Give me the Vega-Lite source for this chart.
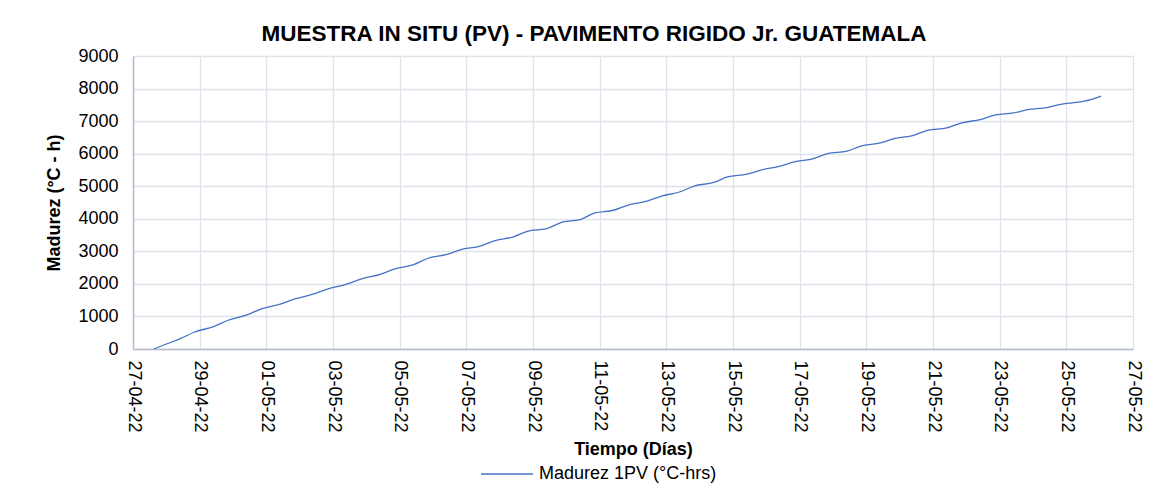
{
  "$schema": "https://vega.github.io/schema/vega-lite/v6.json",
  "width": 1000,
  "height": 293,
  "autosize": {"type": "none"},
  "padding": {"left": 133, "top": 56, "right": 43, "bottom": 137},
  "background": "white",
  "config": {
    "font": "Liberation Sans",
    "view": {"stroke": null},
    "axis": {"gridColor": "#DEE2E9", "gridWidth": 1.3, "domainColor": "#B4BCCE", "domainWidth": 1.5, "labelColor": "#000000", "titleColor": "#000000"}
  },
  "title": {
    "text": "MUESTRA IN SITU (PV) - PAVIMENTO RIGIDO Jr. GUATEMALA",
    "fontSize": 22.5,
    "fontWeight": "bold",
    "font": "Liberation Sans",
    "color": "#000000",
    "anchor": "middle",
    "dx": -39,
    "offset": 2
  },
  "data": {
    "values": [
      {"t": "2022-04-27T15:00:00", "v": 0},
      {"t": "2022-04-28T00:00:00", "v": 153},
      {"t": "2022-04-28T10:00:00", "v": 316},
      {"t": "2022-04-28T20:00:00", "v": 515},
      {"t": "2022-04-29T10:00:00", "v": 690},
      {"t": "2022-04-29T20:00:00", "v": 875},
      {"t": "2022-04-30T10:00:00", "v": 1045},
      {"t": "2022-04-30T20:00:00", "v": 1225},
      {"t": "2022-05-01T10:00:00", "v": 1375},
      {"t": "2022-05-01T20:00:00", "v": 1530},
      {"t": "2022-05-02T10:00:00", "v": 1690},
      {"t": "2022-05-02T20:00:00", "v": 1840},
      {"t": "2022-05-03T10:00:00", "v": 1990},
      {"t": "2022-05-03T20:00:00", "v": 2145},
      {"t": "2022-05-04T10:00:00", "v": 2295},
      {"t": "2022-05-04T20:00:00", "v": 2450},
      {"t": "2022-05-05T10:00:00", "v": 2590},
      {"t": "2022-05-05T20:00:00", "v": 2780},
      {"t": "2022-05-06T10:00:00", "v": 2905},
      {"t": "2022-05-06T20:00:00", "v": 3055},
      {"t": "2022-05-07T10:00:00", "v": 3160},
      {"t": "2022-05-07T20:00:00", "v": 3320},
      {"t": "2022-05-08T10:00:00", "v": 3445},
      {"t": "2022-05-08T20:00:00", "v": 3615},
      {"t": "2022-05-09T10:00:00", "v": 3700},
      {"t": "2022-05-09T21:00:00", "v": 3895},
      {"t": "2022-05-10T10:00:00", "v": 3975},
      {"t": "2022-05-10T20:00:00", "v": 4175},
      {"t": "2022-05-11T10:00:00", "v": 4262},
      {"t": "2022-05-11T20:00:00", "v": 4415},
      {"t": "2022-05-12T10:00:00", "v": 4540},
      {"t": "2022-05-12T20:00:00", "v": 4690},
      {"t": "2022-05-13T10:00:00", "v": 4830},
      {"t": "2022-05-13T20:00:00", "v": 5005},
      {"t": "2022-05-14T10:00:00", "v": 5115},
      {"t": "2022-05-14T20:00:00", "v": 5285},
      {"t": "2022-05-15T10:00:00", "v": 5370},
      {"t": "2022-05-15T20:00:00", "v": 5495},
      {"t": "2022-05-16T10:00:00", "v": 5615},
      {"t": "2022-05-16T20:00:00", "v": 5745},
      {"t": "2022-05-17T10:00:00", "v": 5850},
      {"t": "2022-05-17T20:00:00", "v": 6000},
      {"t": "2022-05-18T10:00:00", "v": 6075},
      {"t": "2022-05-18T20:00:00", "v": 6235},
      {"t": "2022-05-19T10:00:00", "v": 6330},
      {"t": "2022-05-19T20:00:00", "v": 6460},
      {"t": "2022-05-20T10:00:00", "v": 6565},
      {"t": "2022-05-20T20:00:00", "v": 6715},
      {"t": "2022-05-21T10:00:00", "v": 6790},
      {"t": "2022-05-21T20:00:00", "v": 6940},
      {"t": "2022-05-22T10:00:00", "v": 7045},
      {"t": "2022-05-22T21:00:00", "v": 7195},
      {"t": "2022-05-23T10:00:00", "v": 7250},
      {"t": "2022-05-23T20:00:00", "v": 7355},
      {"t": "2022-05-24T10:00:00", "v": 7415},
      {"t": "2022-05-24T20:00:00", "v": 7515},
      {"t": "2022-05-25T10:00:00", "v": 7588},
      {"t": "2022-05-25T20:00:00", "v": 7690},
      {"t": "2022-05-26T01:00:00", "v": 7770}
    ]
  },
  "mark": {"type": "line", "strokeWidth": 1.3, "interpolate": "monotone"},
  "encoding": {
    "x": {
      "field": "t",
      "type": "temporal",
      "scale": {"domain": [{"year": 2022, "month": 4, "date": 27}, {"year": 2022, "month": 5, "date": 27}]},
      "axis": {
        "title": "Tiempo (Días)",
        "titleFontSize": 18,
        "titleFontWeight": "bold",
        "titlePadding": 8,
        "format": "%d-%m-%y",
        "labelAngle": 90,
        "labelFontSize": 18,
        "labelPadding": 11,
        "labelFlush": false,
        "labelOverlap": false,
        "ticks": false,
        "tickSize": 0,
        "values": [
          {"year": 2022, "month": 4, "date": 27},
          {"year": 2022, "month": 4, "date": 29},
          {"year": 2022, "month": 5, "date": 1},
          {"year": 2022, "month": 5, "date": 3},
          {"year": 2022, "month": 5, "date": 5},
          {"year": 2022, "month": 5, "date": 7},
          {"year": 2022, "month": 5, "date": 9},
          {"year": 2022, "month": 5, "date": 11},
          {"year": 2022, "month": 5, "date": 13},
          {"year": 2022, "month": 5, "date": 15},
          {"year": 2022, "month": 5, "date": 17},
          {"year": 2022, "month": 5, "date": 19},
          {"year": 2022, "month": 5, "date": 21},
          {"year": 2022, "month": 5, "date": 23},
          {"year": 2022, "month": 5, "date": 25},
          {"year": 2022, "month": 5, "date": 27}
        ]
      }
    },
    "y": {
      "field": "v",
      "type": "quantitative",
      "scale": {"domain": [0, 9000], "nice": false},
      "axis": {
        "title": "Madurez (°C - h)",
        "titleFontSize": 18,
        "titleFontWeight": "bold",
        "titlePadding": 14,
        "values": [0, 1000, 2000, 3000, 4000, 5000, 6000, 7000, 8000, 9000],
        "format": "d",
        "labelFontSize": 18,
        "labelPadding": 15,
        "ticks": false,
        "tickSize": 0
      }
    },
    "color": {
      "datum": "Madurez 1PV (°C-hrs)",
      "type": "nominal",
      "scale": {"range": ["#4472C4"]},
      "legend": {
        "title": null,
        "orient": "none",
        "legendX": 347,
        "legendY": 391,
        "symbolType": "stroke",
        "symbolSize": 2704,
        "symbolStrokeWidth": 1.3,
        "labelFontSize": 18,
        "labelColor": "#000000",
        "labelOffset": 5,
        "labelLimit": 400
      }
    }
  }
}
